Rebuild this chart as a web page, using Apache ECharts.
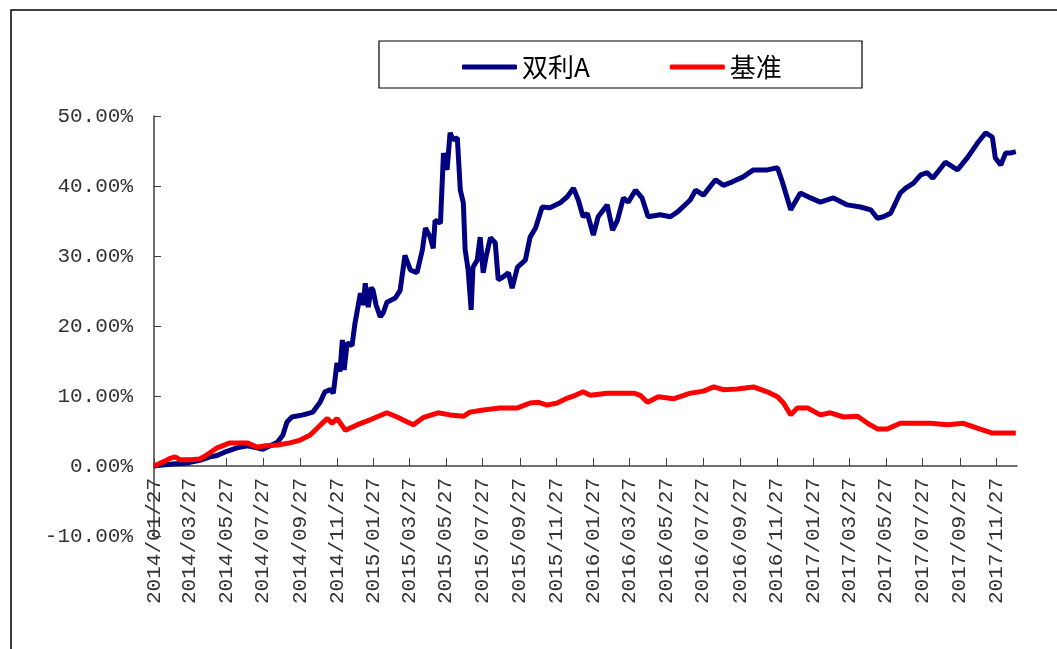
<!DOCTYPE html>
<html>
<head>
<meta charset="utf-8">
<script src="https://cdn.jsdelivr.net/npm/echarts@6/dist/echarts.min.js"></script>
<style>
  html, body { margin: 0; padding: 0; background: #fff; }
  #chart { width: 1057px; height: 649px; }
</style>
</head>
<body>
<div id="chart"></div>
<script>
// 双利A 累计收益率（%）
const fundDates = [
  '2014/01/27', '2014/02/06', '2014/02/26', '2014/03/20', '2014/04/13', '2014/04/30', '2014/05/12', '2014/05/28',
  '2014/06/14', '2014/07/01', '2014/07/17', '2014/07/27', '2014/08/08', '2014/08/20', '2014/08/29', '2014/09/05',
  '2014/09/13', '2014/10/02', '2014/10/18', '2014/10/30', '2014/11/07', '2014/11/16', '2014/11/21', '2014/11/27',
  '2014/12/02', '2014/12/06', '2014/12/09', '2014/12/14', '2014/12/22', '2014/12/27', '2015/01/05', '2015/01/10',
  '2015/01/13', '2015/01/18', '2015/01/23', '2015/01/26', '2015/01/31', '2015/02/07', '2015/02/12', '2015/02/18',
  '2015/03/04', '2015/03/12', '2015/03/20', '2015/03/29', '2015/04/09', '2015/04/18', '2015/04/23', '2015/05/01',
  '2015/05/06', '2015/05/09', '2015/05/18', '2015/05/23', '2015/05/29', '2015/06/03', '2015/06/08', '2015/06/15',
  '2015/06/20', '2015/06/25', '2015/06/28', '2015/07/03', '2015/07/08', '2015/07/11', '2015/07/18', '2015/07/23',
  '2015/07/28', '2015/08/02', '2015/08/09', '2015/08/17', '2015/08/22', '2015/08/30', '2015/09/08', '2015/09/14',
  '2015/09/23', '2015/10/06', '2015/10/14', '2015/10/23', '2015/11/03', '2015/11/16', '2015/12/03', '2015/12/15',
  '2015/12/25', '2016/01/02', '2016/01/10', '2016/01/17', '2016/01/27', '2016/02/04', '2016/02/19', '2016/02/28',
  '2016/03/07', '2016/03/17', '2016/03/25', '2016/04/06', '2016/04/17', '2016/04/27', '2016/05/17', '2016/06/03',
  '2016/06/15', '2016/07/06', '2016/07/15', '2016/07/28', '2016/08/17', '2016/08/30', '2016/09/14', '2016/10/02',
  '2016/10/19', '2016/11/11', '2016/11/28', '2016/12/06', '2016/12/20', '2017/01/05', '2017/01/22', '2017/02/07',
  '2017/03/01', '2017/03/24', '2017/04/15', '2017/05/02', '2017/05/13', '2017/05/23', '2017/06/04', '2017/06/20',
  '2017/06/29', '2017/07/12', '2017/07/24', '2017/08/04', '2017/08/13', '2017/09/03', '2017/09/23', '2017/10/10',
  '2017/10/26', '2017/11/09', '2017/11/20', '2017/11/25', '2017/12/04', '2017/12/12', '2017/12/20', '2017/12/29'
]
const fundValues = [
  0, 0.1, 0.3, 0.4, 0.8, 1.3, 1.5, 2.1,
  2.6, 2.9, 2.6, 2.4, 2.9, 3.4, 4.4, 6.3,
  7.0, 7.3, 7.7, 9.1, 10.6, 10.9, 10.4, 14.7,
  13.5, 18.0, 13.7, 17.6, 17.2, 20.4, 24.7, 23.0,
  26.1, 22.7, 25.5, 25.1, 23.0, 21.3, 21.9, 23.4,
  24.0, 25.1, 30.1, 28.0, 27.6, 30.9, 34.0, 32.7,
  31.1, 35.1, 34.7, 44.7, 42.3, 47.6, 46.6, 46.9,
  39.4, 37.6, 30.9, 28.0, 22.3, 28.4, 29.4, 32.7,
  27.6, 30.0, 32.6, 31.9, 26.6, 27.0, 27.6, 25.4,
  28.4, 29.4, 32.7, 34.0, 37.0, 36.9, 37.6, 38.5,
  39.7, 38.0, 35.6, 36.1, 33.0, 35.6, 37.3, 33.7,
  35.1, 38.3, 37.7, 39.4, 38.3, 35.6, 35.9, 35.6,
  36.3, 38.0, 39.4, 38.7, 40.9, 40.1, 40.6, 41.3,
  42.3, 42.3, 42.6, 40.6, 36.6, 39.0, 38.3, 37.7,
  38.3, 37.3, 37.0, 36.6, 35.4, 35.6, 36.1, 39.0,
  39.7, 40.4, 41.6, 41.9, 41.1, 43.4, 42.3, 44.1,
  46.1, 47.6, 47.0, 44.0, 43.0, 44.7, 44.7, 44.9
]

// 基准 累计收益率（%）
const benchDates = [
  '2014/01/27', '2014/02/14', '2014/02/23', '2014/03/03', '2014/03/11', '2014/03/28', '2014/04/13', '2014/04/25',
  '2014/05/12', '2014/06/02', '2014/07/01', '2014/07/17', '2014/07/31', '2014/08/20', '2014/09/10', '2014/09/27',
  '2014/10/13', '2014/10/25', '2014/11/11', '2014/11/19', '2014/11/27', '2014/12/11', '2014/12/31', '2015/01/21',
  '2015/02/18', '2015/03/07', '2015/03/24', '2015/04/03', '2015/04/19', '2015/05/14', '2015/06/03', '2015/06/25',
  '2015/07/06', '2015/07/28', '2015/08/25', '2015/09/23', '2015/10/14', '2015/10/28', '2015/11/11', '2015/11/28',
  '2015/12/15', '2015/12/28', '2016/01/10', '2016/01/22', '2016/02/19', '2016/03/12', '2016/04/03', '2016/04/14',
  '2016/04/26', '2016/05/14', '2016/06/08', '2016/07/06', '2016/07/28', '2016/08/14', '2016/08/30', '2016/09/22',
  '2016/10/19', '2016/11/11', '2016/11/28', '2016/12/08', '2016/12/20', '2016/12/31', '2017/01/17', '2017/02/07',
  '2017/02/24', '2017/03/18', '2017/04/10', '2017/04/27', '2017/05/13', '2017/05/30', '2017/06/20', '2017/07/12',
  '2017/08/09', '2017/09/07', '2017/10/03', '2017/10/26', '2017/11/20', '2017/12/29'
]
const benchValues = [
  0, 0.7, 1.1, 1.3, 0.9, 0.9, 1.0, 1.6,
  2.6, 3.3, 3.3, 2.7, 2.9, 3.0, 3.3, 3.7,
  4.4, 5.4, 6.8, 6.1, 6.8, 5.1, 5.9, 6.6,
  7.6, 7.0, 6.3, 5.9, 6.9, 7.6, 7.3, 7.1,
  7.7, 8.0, 8.3, 8.3, 9.0, 9.1, 8.7, 9.0,
  9.7, 10.1, 10.6, 10.1, 10.4, 10.4, 10.4, 10.1,
  9.1, 9.9, 9.6, 10.4, 10.7, 11.3, 10.9, 11.0,
  11.3, 10.6, 9.9, 9.0, 7.3, 8.3, 8.3, 7.3,
  7.6, 7.0, 7.1, 6.1, 5.3, 5.3, 6.1, 6.1,
  6.1, 5.9, 6.1, 5.4, 4.7, 4.7
]

// y 轴刻度
const yMin = -10
const yMax = 50
const yStep = 10

// x 轴：逐日日期，标签每两个月的 27 日
const pad = n => (n < 10 ? '0' + n : '' + n)
const days = []
for (let t = new Date(2014, 0, 27); t <= new Date(2017, 11, 31); t.setDate(t.getDate() + 1)) {
  days.push(t.getFullYear() + '/' + pad(t.getMonth() + 1) + '/' + pad(t.getDate()))
}
const isMark = (i, v) => {
  const p = v.split('/')
  return p[2] === '27' && Number(p[1]) % 2 === 1
}

const chart = echarts.init(document.getElementById('chart'))
const labelFont = 'Liberation Mono'

chart.setOption({
  animation: false,
  backgroundColor: '#fff',
  graphic: [
    {
      type: 'rect',
      shape: { x: 11, y: 10, width: 1100, height: 700 },
      style: { fill: 'none', stroke: '#000', lineWidth: 1.5 },
      silent: true
    },
    {
      type: 'rect',
      shape: { x: 379, y: 41, width: 483, height: 47 },
      style: { fill: 'none', stroke: '#000', lineWidth: 1.2 },
      silent: true
    }
  ],
  legend: {
    left: 457,
    top: 49,
    itemGap: 80,
    itemWidth: 55,
    itemHeight: 5,
    icon: 'roundRect',
    textStyle: { fontFamily: 'Noto Sans CJK SC', fontSize: 26, color: '#000' },
    data: ['双利A', '基准']
  },
  grid: { left: 154, right: 40, top: 116, bottom: 113, outerBoundsMode: 'none' },
  xAxis: {
    type: 'category',
    data: days,
    boundaryGap: false,
    axisLine: { onZero: true, lineStyle: { color: '#404040', width: 1.5 } },
    axisTick: { inside: true, length: 8, interval: isMark, lineStyle: { color: '#404040' } },
    axisLabel: {
      interval: isMark,
      rotate: 90,
      margin: -58,
      fontFamily: labelFont,
      fontSize: 21,
      color: '#333'
    },
    splitLine: { show: false }
  },
  yAxis: {
    type: 'value',
    min: yMin,
    max: yMax,
    interval: yStep,
    axisLine: { show: true, lineStyle: { color: '#404040', width: 1.5 } },
    axisTick: { show: true, inside: true, length: 7, lineStyle: { color: '#404040' } },
    axisLabel: {
      margin: 21,
      fontFamily: labelFont,
      fontSize: 21,
      color: '#333',
      formatter: v => v.toFixed(2) + '%'
    },
    splitLine: { show: false }
  },
  series: [
    {
      name: '双利A',
      type: 'line',
      showSymbol: false,
      color: '#000080',
      lineStyle: { color: '#000080', width: 5 },
      data: fundDates.map((d, i) => [d, fundValues[i]])
    },
    {
      name: '基准',
      type: 'line',
      showSymbol: false,
      color: '#ff0000',
      lineStyle: { color: '#ff0000', width: 5 },
      data: benchDates.map((d, i) => [d, benchValues[i]])
    }
  ]
})
</script>
</body>
</html>
